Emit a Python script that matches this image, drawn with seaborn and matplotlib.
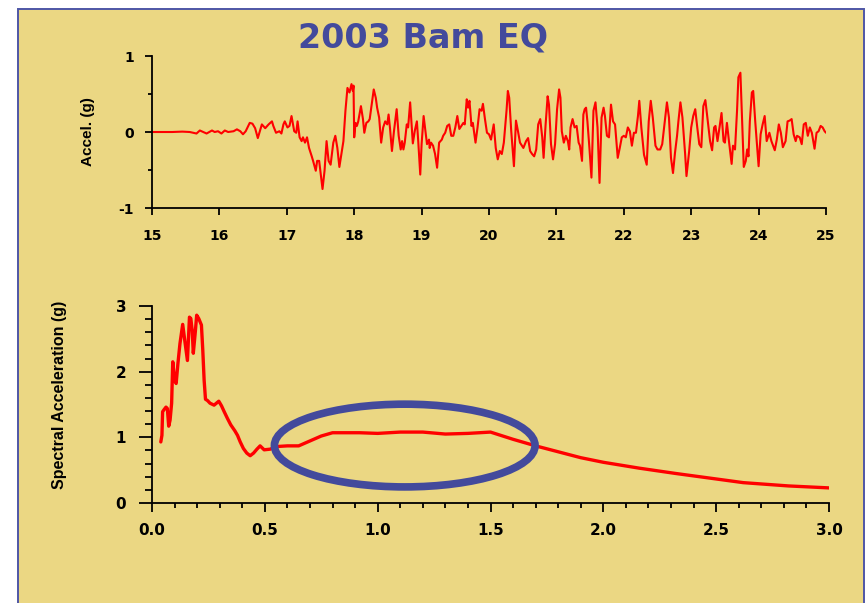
import numpy as np
import pandas as pd
import matplotlib
matplotlib.use("Agg")
import matplotlib.pyplot as plt
import seaborn as sns
from matplotlib.patches import Ellipse, Rectangle
from matplotlib.ticker import MultipleLocator, FormatStrFormatter

# ---------------- data ----------------
time_s = [15.00, 15.30, 15.45, 15.56, 15.66, 15.71, 15.81, 15.89, 15.93, 15.98,
          16.03, 16.08, 16.13, 16.21, 16.26, 16.31, 16.35, 16.39, 16.45, 16.49,
          16.53, 16.57, 16.63, 16.68, 16.73, 16.78, 16.80, 16.84, 16.89, 16.92,
          16.95, 16.97, 17.01, 17.04, 17.07, 17.11, 17.14, 17.16, 17.19, 17.22,
          17.24, 17.27, 17.30, 17.33, 17.37, 17.39, 17.43, 17.45, 17.48, 17.51,
          17.53, 17.56, 17.59, 17.62, 17.65, 17.69, 17.72, 17.75, 17.78, 17.81,
          17.84, 17.87, 17.90, 17.93, 17.96, 17.98, 17.99, 18.00, 18.02, 18.04,
          18.06, 18.10, 18.13, 18.15, 18.18, 18.21, 18.23, 18.26, 18.29, 18.32,
          18.34, 18.37, 18.40, 18.43, 18.46, 18.49, 18.51, 18.53, 18.56, 18.59,
          18.63, 18.66, 18.69, 18.71, 18.73, 18.75, 18.78, 18.80, 18.83, 18.87,
          18.90, 18.93, 18.95, 18.98, 19.00, 19.03, 19.05, 19.08, 19.11, 19.12,
          19.14, 19.17, 19.20, 19.23, 19.26, 19.30, 19.32, 19.35, 19.38, 19.41,
          19.44, 19.47, 19.50, 19.53, 19.56, 19.59, 19.62, 19.64, 19.67, 19.69,
          19.71, 19.74, 19.76, 19.80, 19.83, 19.86, 19.89, 19.91, 19.94, 19.97,
          20.00, 20.03, 20.07, 20.10, 20.13, 20.16, 20.19, 20.22, 20.26, 20.28,
          20.30, 20.33, 20.37, 20.40, 20.43, 20.46, 20.51, 20.55, 20.58, 20.61,
          20.64, 20.67, 20.70, 20.73, 20.76, 20.79, 20.81, 20.84, 20.87, 20.89,
          20.92, 20.95, 20.98, 21.01, 21.04, 21.06, 21.08, 21.11, 21.14, 21.17,
          21.19, 21.21, 21.24, 21.27, 21.30, 21.33, 21.35, 21.38, 21.40, 21.42,
          21.44, 21.46, 21.49, 21.52, 21.55, 21.58, 21.61, 21.64, 21.67, 21.70,
          21.72, 21.75, 21.78, 21.81, 21.84, 21.87, 21.91, 21.94, 21.97, 22.00,
          22.03, 22.06, 22.09, 22.12, 22.15, 22.18, 22.21, 22.23, 22.26, 22.30,
          22.34, 22.37, 22.40, 22.43, 22.47, 22.50, 22.54, 22.57, 22.60, 22.64,
          22.67, 22.70, 22.73, 22.76, 22.79, 22.81, 22.84, 22.87, 22.91, 22.93,
          22.97, 23.00, 23.03, 23.06, 23.09, 23.12, 23.15, 23.18, 23.21, 23.24,
          23.28, 23.31, 23.34, 23.36, 23.39, 23.42, 23.45, 23.48, 23.50, 23.53,
          23.56, 23.60, 23.62, 23.65, 23.68, 23.70, 23.73, 23.75, 23.78, 23.81,
          23.83, 23.85, 23.87, 23.90, 23.92, 23.95, 24.00, 24.03, 24.06, 24.09,
          24.12, 24.16, 24.19, 24.24, 24.27, 24.30, 24.33, 24.36, 24.40, 24.43,
          24.46, 24.49, 24.52, 24.55, 24.57, 24.61, 24.64, 24.67, 24.70, 24.73,
          24.76, 24.79, 24.83, 24.86, 24.89, 24.92, 24.95, 24.98, 25.00]

accel_g = [0.00, 0.00, 0.005, 0.00, -0.02, 0.02, -0.02, 0.02, 0.00, 0.01,
           -0.02, 0.02, 0.00, 0.01, 0.035, 0.01, -0.03, 0.01, 0.12, 0.11,
           0.05, -0.08, 0.10, 0.05, 0.10, 0.14, 0.08, -0.01, 0.01, -0.02,
           0.10, 0.14, 0.06, 0.08, 0.21, 0.01, -0.01, 0.14, -0.07, -0.12,
           -0.07, -0.14, -0.07, -0.21, -0.32, -0.38, -0.51, -0.38, -0.38, -0.60,
           -0.75, -0.51, -0.12, -0.38, -0.43, -0.14, -0.05, -0.21, -0.46, -0.29,
           -0.12, 0.28, 0.58, 0.52, 0.63, 0.54, 0.61, -0.07, 0.12, 0.08,
           0.14, 0.34, 0.17, -0.01, 0.12, 0.14, 0.17, 0.36, 0.56, 0.45,
           0.32, 0.19, -0.14, 0.06, 0.14, 0.10, 0.23, 0.06, -0.25, 0.01,
           0.30, -0.05, -0.23, -0.12, -0.23, -0.14, 0.10, 0.06, 0.39, -0.15,
           0.02, 0.14, -0.12, -0.56, -0.16, 0.21, 0.06, -0.16, -0.10, -0.21,
           -0.14, -0.18, -0.29, -0.47, -0.14, -0.10, -0.05, -0.01, 0.08, 0.10,
           -0.05, -0.05, 0.06, 0.21, 0.04, 0.08, 0.12, 0.10, 0.43, 0.32,
           0.41, 0.08, 0.12, -0.14, 0.06, 0.30, 0.28, 0.37, 0.17, -0.01,
           -0.03, -0.10, 0.10, -0.21, -0.36, -0.25, -0.29, -0.14, 0.28, 0.54,
           0.45, 0.01, -0.45, 0.15, 0.01, -0.14, -0.21, -0.12, -0.08, -0.25,
           -0.29, -0.32, -0.23, 0.10, 0.17, -0.07, -0.34, 0.10, 0.47, 0.36,
           -0.16, -0.36, -0.16, 0.30, 0.56, 0.45, 0.01, -0.14, -0.05, -0.12,
           -0.23, 0.06, 0.17, 0.06, 0.08, -0.14, -0.18, -0.38, 0.23, 0.30,
           0.32, 0.14, -0.21, -0.60, 0.28, 0.39, 0.06, -0.67, 0.19, 0.32,
           0.21, -0.05, -0.07, 0.36, 0.14, 0.10, -0.34, -0.21, -0.07, -0.05,
           -0.07, 0.06, 0.01, -0.18, -0.01, -0.01, 0.21, 0.41, 0.06, -0.30,
           -0.43, 0.14, 0.41, 0.19, -0.18, -0.23, -0.23, -0.16, 0.08, 0.39,
           0.19, -0.34, -0.54, -0.27, -0.05, 0.14, 0.39, 0.19, -0.29, -0.58,
           -0.25, 0.06, 0.21, 0.30, 0.06, -0.16, -0.20, 0.34, 0.42, 0.19,
           -0.12, -0.24, 0.06, 0.08, -0.12, 0.06, 0.25, -0.12, -0.14, 0.12,
           -0.12, -0.42, -0.18, -0.23, 0.28, 0.72, 0.78, 0.28, -0.46, -0.38,
           -0.23, -0.32, 0.14, 0.52, 0.54, 0.14, -0.45, -0.03, 0.10, 0.21,
           -0.12, -0.01, -0.12, -0.24, -0.10, 0.10, -0.01, -0.20, -0.12, 0.14,
           0.15, 0.17, -0.03, -0.12, -0.05, -0.07, -0.16, 0.10, 0.12, -0.05,
           0.06, -0.01, -0.22, -0.01, 0.01, 0.08, 0.06, 0.01, -0.01]

period_s = [0.039, 0.044, 0.047, 0.053, 0.062, 0.068, 0.074, 0.080, 0.087, 0.092,
            0.100, 0.107, 0.115, 0.124, 0.136, 0.145, 0.157, 0.166, 0.172, 0.178,
            0.183, 0.192, 0.198, 0.207, 0.219, 0.225, 0.231, 0.237, 0.246, 0.257,
            0.275, 0.296, 0.308, 0.320, 0.334, 0.349, 0.367, 0.379, 0.391, 0.405,
            0.420, 0.435, 0.450, 0.465, 0.479, 0.497, 0.524, 0.553, 0.60, 0.65,
            0.69, 0.75, 0.80, 0.86, 0.92, 1.00, 1.10, 1.20, 1.30, 1.40,
            1.50, 1.60, 1.70, 1.80, 1.90, 2.00, 2.16, 2.32, 2.47, 2.62,
            2.82, 3.00]

spectral_acc_g = [0.93, 1.03, 1.39, 1.42, 1.46, 1.44, 1.17, 1.26, 1.52, 2.15,
                  1.87, 1.82, 2.13, 2.43, 2.72, 2.48, 2.17, 2.83, 2.81, 2.63,
                  2.28, 2.61, 2.86, 2.81, 2.71, 2.33, 1.87, 1.58, 1.56, 1.52,
                  1.49, 1.55, 1.48, 1.39, 1.29, 1.19, 1.10, 1.03, 0.93, 0.83,
                  0.76, 0.72, 0.76, 0.82, 0.87, 0.81, 0.82, 0.86, 0.87, 0.87,
                  0.93, 1.02, 1.07, 1.07, 1.07, 1.06, 1.08, 1.08, 1.05, 1.06,
                  1.08, 0.97, 0.87, 0.78, 0.69, 0.62, 0.53, 0.45, 0.38, 0.31,
                  0.26, 0.23]

title_text = "2003 Bam EQ"
top_xticks = [15, 16, 17, 18, 19, 20, 21, 22, 23, 24, 25]
top_yticks = [-1, 0, 1]
bot_xticks = [0.0, 0.5, 1.0, 1.5, 2.0, 2.5, 3.0]
bot_yticks = [0, 1, 2, 3]

# ---------------- style ----------------
sns.set_style("ticks")
plt.rcParams["font.family"] = ["Liberation Sans", "DejaVu Sans"]
plt.rcParams["axes.unicode_minus"] = False
plt.rcParams["text.color"] = "black"
plt.rcParams["axes.labelcolor"] = "black"
plt.rcParams["xtick.color"] = "black"
plt.rcParams["ytick.color"] = "black"

PANEL = "#EBD783"
BLUE = "#434A9C"
W, H = 867, 603
fig = plt.figure(figsize=(W / 100, H / 100), dpi=100)
fig.patch.set_facecolor("white")

panel = Rectangle((18 / W, -0.05), 846 / W, 1.05 - 9 / H, transform=fig.transFigure,
                  facecolor=PANEL, edgecolor="#4E56A6", linewidth=1.4, zorder=-10)
fig.patches.append(panel)

fig.text(423 / W, 1 - 38 / H, title_text, ha="center", va="center",
         fontsize=24, fontweight="bold", color=BLUE, family="DejaVu Sans")

def fr(x0, y0, x1, y1):
    return [x0 / W, 1 - y1 / H, (x1 - x0) / W, (y1 - y0) / H]

ax1 = fig.add_axes(fr(152, 56, 826, 208))
ax2 = fig.add_axes(fr(152, 306, 829, 503))

df1 = pd.DataFrame({"t": time_s, "a": accel_g})
sns.lineplot(data=df1, x="t", y="a", ax=ax1, color="#FF0000", linewidth=1.5,
             errorbar=None)
df2 = pd.DataFrame({"T": period_s, "Sa": spectral_acc_g})
sns.lineplot(data=df2, x="T", y="Sa", ax=ax2, color="#FF0000", linewidth=2.4,
             errorbar=None)

for ax in (ax1, ax2):
    ax.set_facecolor("none")
    for s in ("top", "right"):
        ax.spines[s].set_visible(False)
    for s in ("left", "bottom"):
        ax.spines[s].set_linewidth(1.3)
        ax.spines[s].set_color("black")
    ax.tick_params(which="both", direction="out", color="black", width=1.3,
                   labelcolor="black")
    ax.set_xlabel("")

# top axis
ax1.set_xlim(15, 25)
ax1.set_ylim(-1, 1)
ax1.set_xticks(top_xticks)
ax1.set_yticks(top_yticks)
ax1.yaxis.set_minor_locator(MultipleLocator(0.5))
ax1.tick_params(axis="x", which="major", length=5, pad=10)
ax1.tick_params(axis="y", which="major", length=5, pad=8)
ax1.tick_params(axis="y", which="minor", length=3)
ax1.set_ylabel("Accel. (g)", fontsize=11, fontweight="bold", color="black")
ax1.yaxis.set_label_coords(-0.084, 0.5)

# bottom axis
ax2.set_xlim(0, 3.0)
ax2.set_ylim(0, 3)
ax2.set_xticks(bot_xticks)
ax2.set_yticks(bot_yticks)
ax2.xaxis.set_major_formatter(FormatStrFormatter("%.1f"))
ax2.xaxis.set_minor_locator(MultipleLocator(0.1))
ax2.yaxis.set_minor_locator(MultipleLocator(0.2))
ax2.tick_params(axis="x", which="major", length=6.5, pad=8)
ax2.tick_params(axis="x", which="minor", length=3.5)
ax2.tick_params(axis="y", which="major", length=9.5, pad=9)
ax2.tick_params(axis="y", which="minor", length=5)
ax2.set_ylabel("Spectral Acceleration (g)", fontsize=11.5, fontweight="bold",
               color="black")
ax2.yaxis.set_label_coords(-0.125, 0.548)

for lab in ax1.get_xticklabels() + ax1.get_yticklabels():
    lab.set_fontweight("bold")
    lab.set_family("DejaVu Sans")
    lab.set_fontsize(10)
    lab.set_color("black")
for lab in ax2.get_xticklabels() + ax2.get_yticklabels():
    lab.set_fontweight("bold")
    lab.set_family("DejaVu Sans")
    lab.set_fontsize(11)
    lab.set_color("black")

ell = Ellipse((1.12, 0.875), 1.155, 1.26, facecolor="none", edgecolor=BLUE,
              linewidth=5.5, clip_on=False, zorder=5)
ax2.add_patch(ell)

fig.savefig("out.png", dpi=100, facecolor="white")
